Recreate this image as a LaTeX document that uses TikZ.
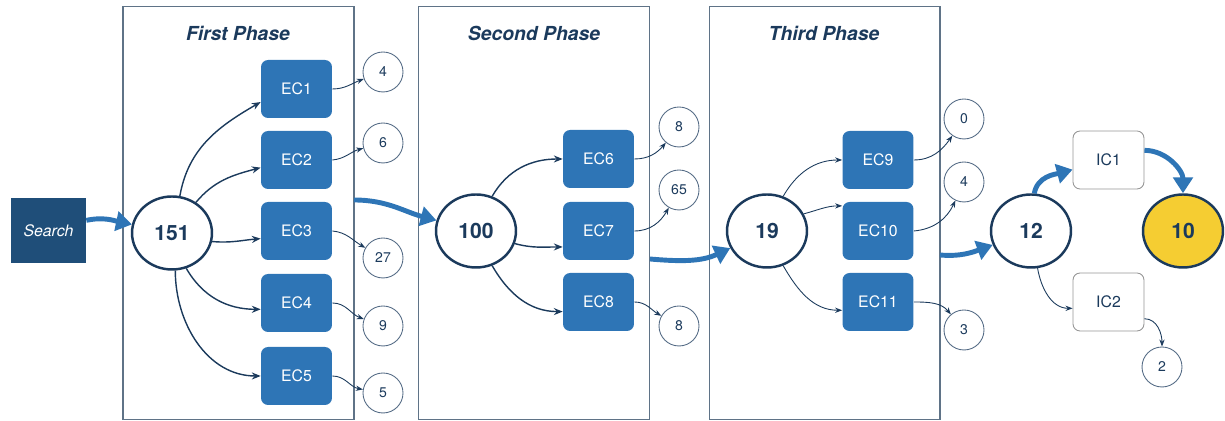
\documentclass[tikz,border=0pt]{standalone}
\usepackage{fontspec}
\setmainfont{TeX Gyre Heros}
\usepackage{tikz}
\usetikzlibrary{shapes.geometric, arrows.meta}

\definecolor{ecblue}{RGB}{46,117,182}
\definecolor{searchblue}{RGB}{31,78,121}
\definecolor{navy}{RGB}{27,58,92}
\definecolor{framegrey}{RGB}{95,115,135}
\definecolor{icgrey}{RGB}{150,150,150}
\definecolor{resultyellow}{RGB}{245,205,50}

\begin{document}
\begin{tikzpicture}[x=0.02cm, y=0.02cm,
    phasebox/.style={draw=framegrey, line width=0.6pt, minimum width=4.62cm, minimum height=8.28cm},
    phasetitle/.style={text=navy, font=\fontsize{11}{13}\selectfont\bfseries\itshape},
    ecbox/.style={fill=ecblue, rounded corners=4pt, minimum width=1.42cm, minimum height=1.16cm,
        text=white, font=\fontsize{9}{11}\selectfont},
    icbox/.style={draw=icgrey, line width=0.5pt, fill=white, rounded corners=4pt,
        minimum width=1.42cm, minimum height=1.16cm, text=navy, font=\fontsize{9}{11}\selectfont},
    countnode/.style={ellipse, draw=navy, line width=1.4pt, fill=white, inner sep=0pt,
        minimum width=1.6cm, minimum height=1.46cm, text=navy, font=\fontsize{12}{14}\selectfont\bfseries},
    outcircle/.style={circle, draw=navy!75, line width=0.5pt, inner sep=0pt, minimum size=0.8cm,
        text=navy, font=\fontsize{8}{10}\selectfont},
    bigarrow/.style={draw=ecblue, line width=2.8pt, -{Triangle[length=9pt, width=11pt]}},
    midarrow/.style={draw=navy, line width=0.8pt, -{Stealth[length=5pt, width=4pt]}},
    smallarrow/.style={draw=navy, line width=0.5pt, -{Stealth[length=4pt, width=3pt]}}]

    \useasboundingbox (0,0) rectangle (1225,421);

    % phases
    \node[phasebox] (phase1) at (238.5,208) {};
    \node[phasebox] (phase2) at (534,208) {};
    \node[phasebox] (phase3) at (824.5,208) {};
    \node[phasetitle] (title1) at (238,388) {First Phase};
    \node[phasetitle] (title2) at (534,388) {Second Phase};
    \node[phasetitle] (title3) at (824,388) {Third Phase};

    \node[fill=searchblue, minimum width=1.5cm, minimum height=1.3cm, text=white,
        font=\fontsize{9}{11}\selectfont\itshape] (search) at (48.5,190.5) {Search};

    % counts
    \node[countnode] (n151) at (172,188) {151};
    \node[countnode] (n100) at (476,190) {100};
    \node[countnode] (n19) at (767,190) {19};
    \node[countnode] (n12) at (1031,190) {12};
    \node[countnode, fill=resultyellow] (n10) at (1183,190) {10};

    % exclusion criteria
    \node[ecbox] (ec1) at (296.5,332) {EC1};
    \node[ecbox] (ec2) at (296.5,261) {EC2};
    \node[ecbox] (ec3) at (296.5,190) {EC3};
    \node[ecbox] (ec4) at (296.5,118) {EC4};
    \node[ecbox] (ec5) at (296.5,45) {EC5};
    \node[ecbox] (ec6) at (598.5,262) {EC6};
    \node[ecbox] (ec7) at (598.5,190) {EC7};
    \node[ecbox] (ec8) at (598.5,119) {EC8};
    \node[ecbox] (ec9) at (878,261) {EC9};
    \node[ecbox] (ec10) at (878,190) {EC10};
    \node[ecbox] (ec11) at (878,119) {EC11};
    \node[icbox] (ic1) at (1108.5,261) {IC1};
    \node[icbox] (ic2) at (1108.5,119) {IC2};

    % removed papers
    \node[outcircle] (r1) at (383,349) {4};
    \node[outcircle] (r2) at (383,278) {6};
    \node[outcircle] (r3) at (383,163) {27};
    \node[outcircle] (r4) at (383,95) {9};
    \node[outcircle] (r5) at (383,28) {5};
    \node[outcircle] (r6) at (679,294) {8};
    \node[outcircle] (r7) at (679,231) {65};
    \node[outcircle] (r8) at (679,95) {8};
    \node[outcircle] (r9) at (964,302) {0};
    \node[outcircle] (r10) at (964,239) {4};
    \node[outcircle] (r11) at (964,91) {3};
    \node[outcircle] (r12) at (1162,54) {2};

    \coordinate (p1out) at (354,221);
    \coordinate (p2out) at (650,162);
    \coordinate (p3out) at (940,166);

    % main flow
    \draw[bigarrow] (search.15) to[out=12, in=168] (n151);
    \draw[bigarrow] (p1out) to[out=0, in=165] (n100);
    \draw[bigarrow] (p2out) to[out=-5, in=205] (n19);
    \draw[bigarrow] (p3out) to[out=-5, in=200] (n12);
    \draw[bigarrow] (n12.85) to[out=80, in=195] (ic1);
    \draw[bigarrow] (ic1.15) to[out=0, in=90] (n10);

    \draw[midarrow] (n151.78) to[out=80, in=210] (ec1.200);
    \draw[midarrow] (n151.52) to[out=50, in=195] (ec2.192);
    \draw[midarrow] (n151.-12) to[out=-5, in=185] (ec3.192);
    \draw[midarrow] (n151.-68) to[out=-60, in=180] (ec4.190);
    \draw[midarrow] (n151.-85) to[out=-90, in=180] (ec5.west);
    \draw[midarrow] (n100.65) to[out=60, in=180] (ec6.west);
    \draw[midarrow] (n100.-18) to[out=-15, in=180] (ec7.204);
    \draw[midarrow] (n100.-65) to[out=-60, in=180] (ec8.195);
    \draw[smallarrow] (n19.65) to[out=60, in=180] (ec9.west);
    \draw[smallarrow] (n19.25) to[out=15, in=180] (ec10.145);
    \draw[smallarrow] (n19.-65) to[out=-60, in=180] (ec11.193);
    \draw[smallarrow] (n12.-80) to[out=-80, in=180] (ic2.190);

    \draw[smallarrow] (ec1.east) to[out=0, in=200] (r1);
    \draw[smallarrow] (ec2.east) to[out=5, in=195] (r2);
    \draw[smallarrow] (ec3.east) to[out=-5, in=150] (r3);
    \draw[smallarrow] (ec4.east) to[out=0, in=160] (r4);
    \draw[smallarrow] (ec5.east) to[out=0, in=170] (r5);
    \draw[smallarrow] (ec6.east) to[out=0, in=230] (r6);
    \draw[smallarrow] (ec7.east) to[out=0, in=240] (r7);
    \draw[smallarrow] (ec8.east) to[out=0, in=150] (r8);
    \draw[smallarrow] (ec9.east) to[out=0, in=235] (r9);
    \draw[smallarrow] (ec10.east) to[out=5, in=245] (r10);
    \draw[smallarrow] (ec11.east) to[out=0, in=130] (r11);
    \draw[smallarrow] (ic2.-25) to[out=0, in=90] (r12);
\end{tikzpicture}
\end{document}
